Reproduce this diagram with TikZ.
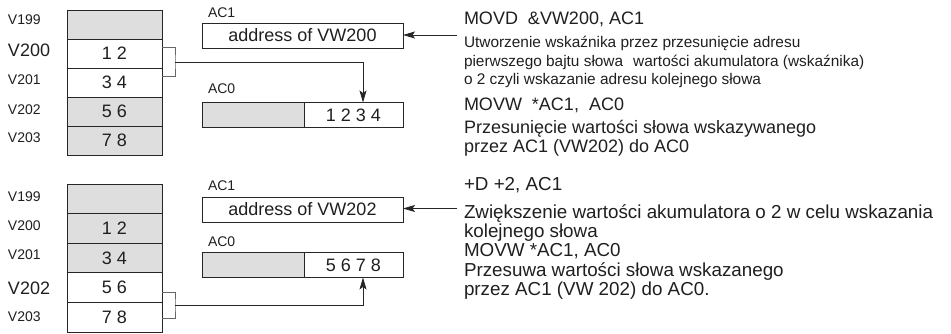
\documentclass[tikz,border=0pt]{standalone}
\usepackage{fontspec}
\setmainfont{Liberation Sans}
\usetikzlibrary{arrows.meta,calc}

\begin{document}
\begin{tikzpicture}[x=1pt,y=-1pt,
  every node/.style={text=black!88},
  big/.style={font=\fontsize{18}{19}\selectfont},
  bigger/.style={font=\fontsize{18.8}{20}\selectfont},
  small/.style={font=\fontsize{14}{15}\selectfont},
  note/.style={font=\fontsize{15.4}{17}\selectfont},
  cell/.style={draw=black!85, line width=0.9pt, minimum width=95pt,
    minimum height=29pt, inner sep=0pt, outer sep=0pt, big},
  shaded/.style={cell, fill=black!13},
  plain/.style={cell, fill=white},
  regbox/.style={draw=black!85, line width=0.9pt, minimum height=25pt,
    inner sep=0pt, outer sep=0pt, big},
  lbl/.style={anchor=base west, inner sep=0pt, outer sep=0pt},
  wire/.style={draw=black!85, line width=0.8pt},
  brace/.style={draw=black!60, line width=1pt},
  arr/.style={wire, -{Stealth[length=12pt,width=7pt,inset=2.5pt]}}
]
\useasboundingbox (0,0) rectangle (951,334);

% ---------------- upper memory stack ----------------
\node[shaded] (a199) at (114.5,24.5)  {};
\node[plain]  (a200) at (114.5,53.5)  {1 2};
\node[plain]  (a201) at (114.5,82.5)  {3 4};
\node[shaded] (a202) at (114.5,111.5) {5 6};
\node[shaded] (a203) at (114.5,140.5) {7 8};

\node[lbl,small] (la199) at (8,25)  {V199};
\node[lbl,big]   (la200) at (8,57)  {V200};
\node[lbl,small] (la201) at (8,85)  {V201};
\node[lbl,small] (la202) at (8,115) {V202};
\node[lbl,small] (la203) at (8,143) {V203};

% upper registers
\node[lbl,small] (lac1a) at (208,17.5) {AC1};
\node[regbox, minimum width=201pt] (ac1a) at (302.5,35.5) {address of VW200};
\node[lbl,small] (lac0a) at (208,94) {AC0};
\node[regbox, minimum width=102pt, fill=black!13] (ac0al) at (253,115) {};
\node[regbox, minimum width=99pt] (ac0ar) at (353.5,115) {1 2 3 4};

% bracket joining V200/V201 and its arrow into AC0
\coordinate (ma) at (175,62);
\draw[brace] ([yshift=6pt]a200.east) -| (ma) |- ([yshift=5.5pt]a201.east);
\draw[arr] (ma) -| ([xshift=9.5pt]ac0ar.north);

% pointer arrow into AC1
\coordinate (pa) at (457,35);
\draw[arr] (pa) -- (ac1a.east |- pa);

% upper descriptions
\node[lbl,big]  (ta1) at (464,25)    {MOVD~ \&VW200, AC1};
\node[lbl,note] (ta2) at (464,47.7)  {Utworzenie wskaźnika przez przesunięcie adresu};
\node[lbl,note] (ta3) at (464,66.7)  {pierwszego bajtu słowa\hspace{10pt}wartości akumulatora (wskaźnika)};
\node[lbl,note] (ta4) at (464,85)    {o 2 czyli wskazanie adresu kolejnego słowa};
\node[lbl,big]  (ta5) at (464,111)   {MOVW~ *AC1,~ AC0};
\node[lbl,big]  (ta6) at (464,134)   {Przesunięcie wartości słowa wskazywanego};
\node[lbl,big]  (ta7) at (464,152.7) {przez AC1 (VW202) do AC0};

% ---------------- lower memory stack ----------------
\node[shaded] (b199) at (114.5,198.8) [minimum height=29.6pt] {};
\node[shaded] (b200) at (114.5,228.4) [minimum height=29.6pt] {1 2};
\node[shaded] (b201) at (114.5,258.0) [minimum height=29.6pt] {3 4};
\node[plain]  (b202) at (114.5,287.6) [minimum height=29.6pt] {5 6};
\node[plain]  (b203) at (114.5,317.2) [minimum height=29.6pt] {7 8};

\node[lbl,small] (lb199) at (8,201.7) {V199};
\node[lbl,small] (lb200) at (8,230)   {V200};
\node[lbl,small] (lb201) at (8,259.3) {V201};
\node[lbl,big]   (lb202) at (8,294.3) {V202};
\node[lbl,small] (lb203) at (8,321.7) {V203};

% lower registers
\node[lbl,small] (lac1b) at (208,191) {AC1};
\node[regbox, minimum width=201pt] (ac1b) at (302.5,209.5) {address of VW202};
\node[lbl,small] (lac0b) at (208,246) {AC0};
\node[regbox, minimum width=102pt, fill=black!13] (ac0bl) at (253,265) {};
\node[regbox, minimum width=99pt] (ac0br) at (353.5,265) {5 6 7 8};

% bracket joining V202/V203 and its arrow into AC0
\coordinate (mb) at (175,305);
\draw[brace] ([yshift=-4.4pt]b202.east) -| (mb) |- ([yshift=-0.8pt]b203.east);
\draw[arr] (mb) -| ([xshift=9.5pt]ac0br.south);

% pointer arrow into AC1
\coordinate (pb) at (457,208.5);
\draw[arr] (pb) -- (ac1b.east |- pb);

% lower descriptions
\node[lbl,bigger] (tb1) at (464,190)   {+D +2, AC1};
\node[lbl,bigger] (tb2) at (464,218.3) {Zwiększenie wartości akumulatora o 2 w celu wskazania};
\node[lbl,bigger] (tb3) at (464,237.7) {kolejnego słowa};
\node[lbl,bigger] (tb4) at (464,256.7) {MOVW *AC1, AC0};
\node[lbl,bigger] (tb5) at (464,276)   {Przesuwa wartości słowa wskazanego};
\node[lbl,bigger] (tb6) at (464,295)   {przez AC1 (VW 202) do AC0.};
\end{tikzpicture}
\end{document}
